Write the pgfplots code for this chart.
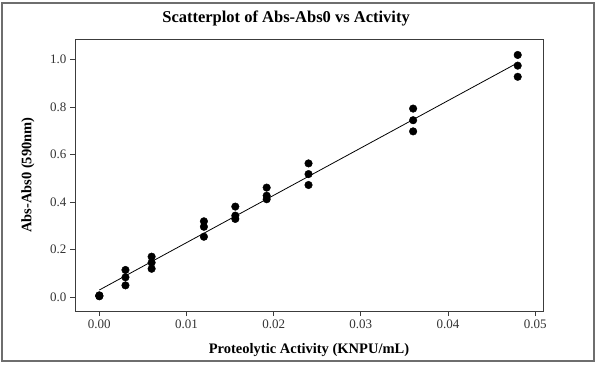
\documentclass[border=0pt]{standalone}
\usepackage{fontspec}
\setmainfont{Liberation Serif}
\usepackage{pgfplots}
\pgfplotsset{compat=1.18}

\definecolor{framegray}{RGB}{110,110,110}
\definecolor{axisgray}{RGB}{60,60,60}

\begin{document}
\begin{tikzpicture}[x=1pt,y=1pt]
\useasboundingbox (0,0) rectangle (597,368);
% outer frame of the figure
\draw[framegray, line width=1.2pt] (2,7) rectangle (594,365);
\begin{axis}[
  at={(75pt,57pt)}, anchor=south west,
  width=468pt, height=271.7pt, scale only axis,
  xmin=-0.00279, xmax=0.0509,
  ymin=-0.059, ymax=1.086,
  xtick={0,0.01,0.02,0.03,0.04,0.05},
  ytick={0,0.2,0.4,0.6,0.8,1.0},
  scaled x ticks=false,
  xticklabel style={/pgf/number format/.cd, fixed, fixed zerofill, precision=2},
  yticklabel style={/pgf/number format/.cd, fixed, fixed zerofill, precision=1},
  /pgf/number format/assume math mode=true,
  tick label style={font=\fontsize{13}{15}\selectfont, text=black!80},
  tick align=outside, tick pos=left,
  major tick length=5pt,
  every tick/.style={axisgray, line width=0.8pt},
  axis line style={axisgray, line width=1pt},
  title={\textbf{Scatterplot of Abs-Abs0 vs Activity}},
  title style={font=\fontsize{16.5}{19}\selectfont, at={(0.451,1)}, anchor=base, yshift=11pt},
  xlabel={\textbf{Proteolytic Activity (KNPU/mL)}},
  xlabel style={font=\fontsize{14.5}{17}\selectfont, at={(0.5,0)}, anchor=base, yshift=-42pt},
  ylabel={\textbf{Abs-Abs0 (590nm)}},
  ylabel style={font=\fontsize{14.5}{17}\selectfont, at={(axis description cs:-0.1004,0.5)}, anchor=center},
  clip=false,
]
% fitted regression line
\addplot[black, line width=0.8pt, no marks] coordinates {(0,0.0295) (0.048,0.987)};
% measured replicates
\addplot[only marks, mark=*, mark size=3.8pt, black] coordinates {
  (0,0.003) (0,0.005) (0,0.007)
  (0.003,0.114) (0.003,0.083) (0.003,0.049)
  (0.006,0.170) (0.006,0.145) (0.006,0.119)
  (0.012,0.319) (0.012,0.296) (0.012,0.254)
  (0.0156,0.381) (0.0156,0.343) (0.0156,0.329)
  (0.0192,0.461) (0.0192,0.427) (0.0192,0.412)
  (0.024,0.563) (0.024,0.518) (0.024,0.472)
  (0.036,0.794) (0.036,0.745) (0.036,0.698)
  (0.048,1.020) (0.048,0.975) (0.048,0.928)
};
\end{axis}
\end{tikzpicture}
\end{document}
